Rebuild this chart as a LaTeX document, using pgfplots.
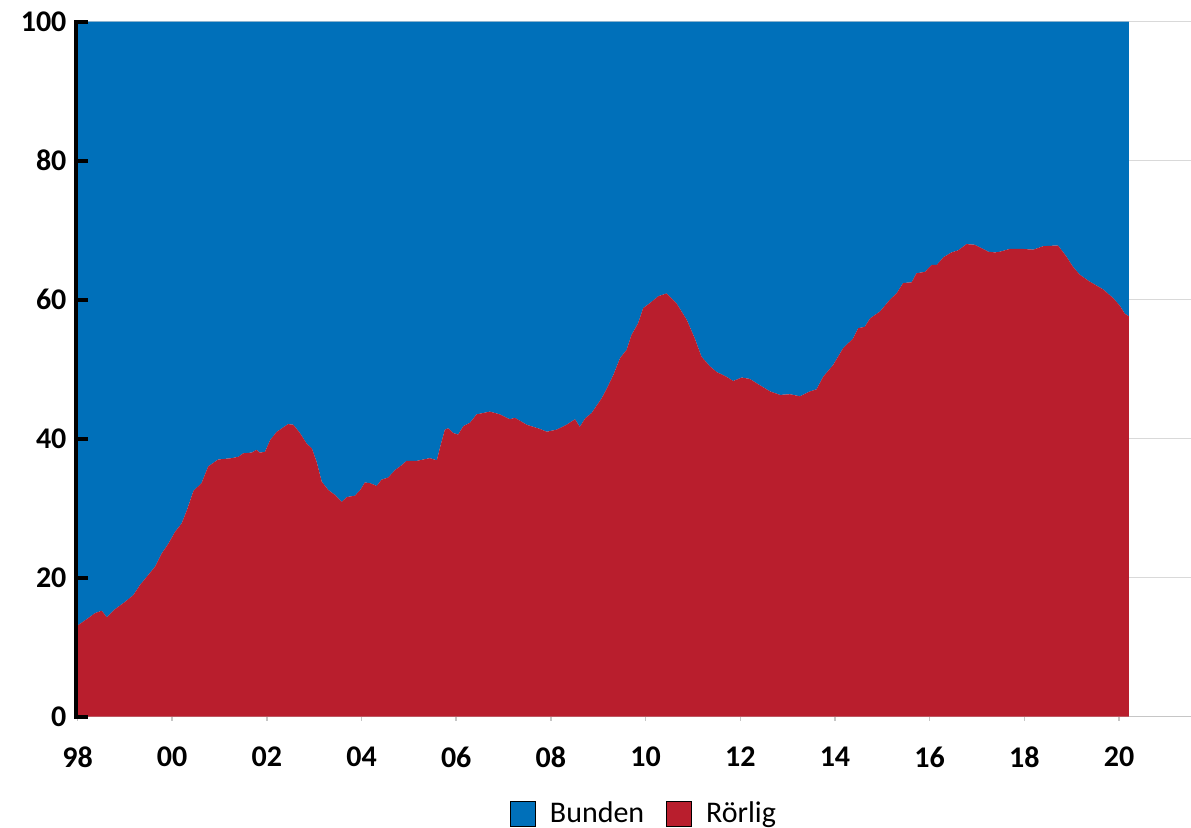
\documentclass[border=0pt]{standalone}
\usepackage{pgfplots}
\pgfplotsset{compat=1.18}
\usepackage{pgfplotstable}
\usepackage{fontspec}
\setmainfont{Carlito}
\definecolor{bunden}{RGB}{0,112,186}
\definecolor{rorlig}{RGB}{185,30,45}
\definecolor{gridgray}{RGB}{217,217,217}
\pgfplotstableread{
year r
1998.00 13.1
1998.02 13.2
1998.23 14.2
1998.37 14.9
1998.51 15.25
1998.62 14.3
1998.79 15.45
1999.00 16.5
1999.18 17.5
1999.32 18.95
1999.46 20.1
1999.64 21.6
1999.78 23.5
1999.92 24.9
2000.06 26.6
2000.20 27.8
2000.31 29.7
2000.45 32.5
2000.62 33.6
2000.76 36.0
2000.97 37.0
2001.26 37.2
2001.40 37.4
2001.50 37.9
2001.68 38.0
2001.78 38.4
2001.85 38.0
2001.96 38.1
2002.07 39.8
2002.21 41.0
2002.45 42.1
2002.56 42.0
2002.70 40.8
2002.84 39.3
2002.95 38.6
2003.05 36.7
2003.16 33.8
2003.30 32.6
2003.44 31.9
2003.58 30.9
2003.69 31.6
2003.86 31.8
2003.97 32.6
2004.07 33.7
2004.18 33.6
2004.32 33.2
2004.42 34.1
2004.56 34.4
2004.71 35.5
2004.85 36.2
2004.95 36.8
2005.16 36.8
2005.30 37.0
2005.44 37.2
2005.59 36.9
2005.66 38.8
2005.76 41.3
2005.83 41.5
2005.94 40.8
2006.04 40.6
2006.15 41.8
2006.29 42.3
2006.43 43.5
2006.71 43.9
2006.92 43.5
2007.13 42.8
2007.24 43.0
2007.49 42.0
2007.77 41.4
2007.91 41.0
2008.12 41.3
2008.33 42.0
2008.51 42.8
2008.61 41.7
2008.72 42.9
2008.86 43.7
2008.97 44.8
2009.07 45.8
2009.18 47.2
2009.32 49.2
2009.46 51.6
2009.60 52.8
2009.70 54.9
2009.84 56.6
2009.95 58.8
2010.09 59.5
2010.27 60.5
2010.44 60.9
2010.65 59.5
2010.87 57.1
2011.04 54.4
2011.18 51.8
2011.36 50.4
2011.50 49.6
2011.71 48.9
2011.85 48.3
2012.03 48.8
2012.20 48.6
2012.41 47.7
2012.63 46.8
2012.84 46.3
2013.05 46.4
2013.26 46.1
2013.47 46.8
2013.61 47.1
2013.75 48.9
2013.96 50.6
2014.17 53.0
2014.38 54.4
2014.49 55.9
2014.63 56.1
2014.74 57.3
2014.95 58.3
2015.16 60.0
2015.30 60.9
2015.44 62.4
2015.62 62.5
2015.72 63.8
2015.90 64.0
2016.04 65.0
2016.15 65.0
2016.29 66.1
2016.46 66.8
2016.60 67.1
2016.78 68.0
2016.95 67.9
2017.10 67.4
2017.24 66.9
2017.38 66.8
2017.48 66.9
2017.69 67.3
2017.97 67.3
2018.19 67.2
2018.40 67.7
2018.71 67.8
2018.89 66.2
2019.03 64.7
2019.17 63.6
2019.38 62.6
2019.66 61.5
2019.88 60.2
2020.02 59.1
2020.12 58.0
2020.21 57.6
}\data

\begin{document}
\begin{tikzpicture}
\begin{axis}[
  scale only axis, width=556.75pt, height=347.5pt,
  xmin=1998, xmax=2021.52, ymin=0, ymax=100,
  clip=false,
  axis x line*=bottom, axis y line*=left,
  x axis line style={draw=gray!45, line width=0.8pt, -},
  y axis line style={draw=none, -},
  xtick={1998,2000,...,2020},
  xticklabels={98,00,02,04,06,08,10,12,14,16,18,20},
  ytick={0,20,...,100},
  tick align=outside, major tick length=2pt,
  tick style={gray!45, line width=0.8pt},
  ymajorgrids, grid style={gridgray, line width=0.8pt},
  /pgf/number format/assume math mode=true,
  ticklabel style={font=\bfseries\fontsize{15}{18}\selectfont, text=black},
  xticklabel style={yshift=-9.5pt},
  stack plots=y,
  legend entries={Bunden,Rörlig},
  legend image code/.code={\fill[#1] (0pt,-6.25pt) rectangle (12.5pt,6.25pt);},
  legend style={at={(0.5097,-0.1396)}, anchor=center, draw=none, fill=none,
    font=\fontsize{15}{18}\selectfont, legend columns=-1,
    /tikz/every odd column/.append style={column sep=5pt},
    /tikz/every even column/.append style={column sep=9pt}},
]
\addlegendimage{fill=bunden}
\addlegendimage{fill=rorlig}
\addplot[fill=rorlig, draw=none] table[x=year, y=r] {\data} \closedcycle;
\addplot[fill=bunden, draw=none] table[x=year, y expr=100-\thisrow{r}] {\data} \closedcycle;
\coordinate (y0) at (axis cs:1998,0);
\coordinate (y20) at (axis cs:1998,20);
\coordinate (y40) at (axis cs:1998,40);
\coordinate (y60) at (axis cs:1998,60);
\coordinate (y80) at (axis cs:1998,80);
\coordinate (y100) at (axis cs:1998,100);
\end{axis}
\draw[black, line width=2.25pt] ([xshift=-0.75pt,yshift=-1pt]y0) -- ([xshift=-0.75pt,yshift=1pt]y100);
\foreach \c in {y0,y20,y40,y60,y80,y100}
  \draw[black, line width=2pt] ([xshift=-1.5pt]\c) -- ([xshift=5.25pt]\c);
\pgfresetboundingbox
\path ([xshift=-38.75pt,yshift=-55.65pt]current axis.south west) rectangle ([yshift=10.85pt]current axis.north east);
\end{tikzpicture}
\end{document}
